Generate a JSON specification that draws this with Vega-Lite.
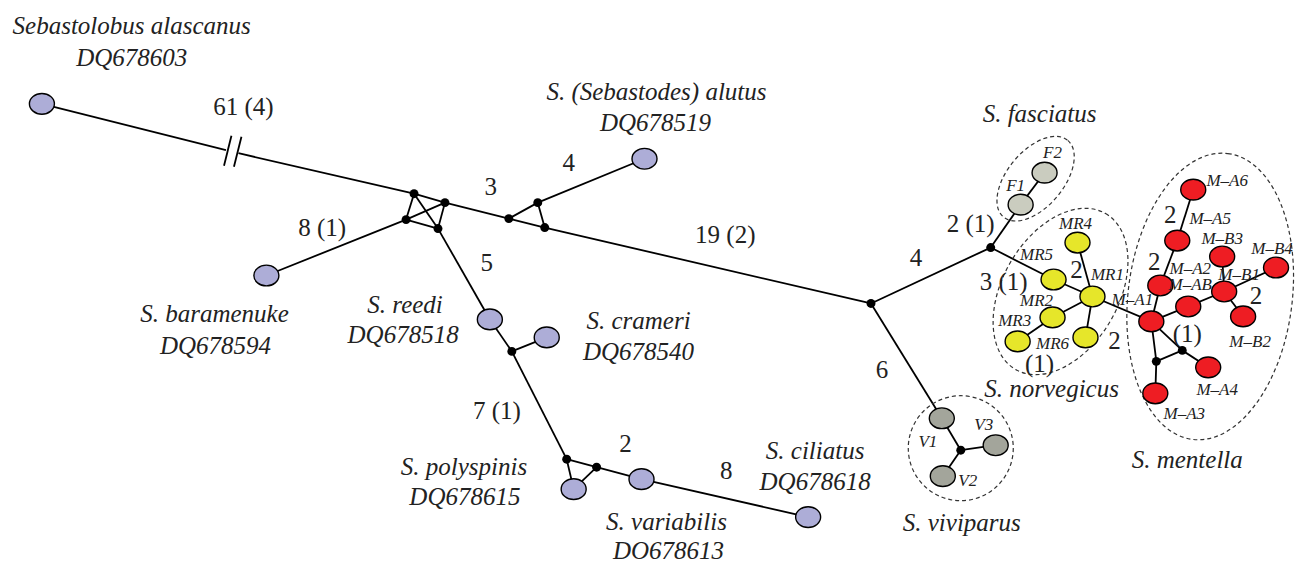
{
  "$schema": "https://vega.github.io/schema/vega-lite/v6.json",
  "width": 1296,
  "height": 564,
  "autosize": {"type": "fit", "contains": "padding"},
  "padding": 0,
  "background": "white",
  "config": {"view": {"stroke": null}},
  "datasets": {
    "nodes": [
      {"id": "seb", "x": 42, "y": 104, "group": "outgroup"},
      {"id": "brk1", "x": 226.5, "y": 150.5, "group": "hidden"},
      {"id": "brk2", "x": 239, "y": 153.5, "group": "hidden"},
      {"id": "s1a", "x": 232, "y": 136, "group": "hidden"},
      {"id": "s1b", "x": 224.5, "y": 166, "group": "hidden"},
      {"id": "s2a", "x": 242, "y": 137, "group": "hidden"},
      {"id": "s2b", "x": 234.5, "y": 167, "group": "hidden"},
      {"id": "A", "x": 415, "y": 194, "group": "median"},
      {"id": "B", "x": 446, "y": 203, "group": "median"},
      {"id": "C", "x": 407, "y": 220, "group": "median"},
      {"id": "D", "x": 439, "y": 229, "group": "median"},
      {"id": "bar", "x": 267, "y": 276, "group": "outgroup"},
      {"id": "E", "x": 510, "y": 219, "group": "median"},
      {"id": "F", "x": 539, "y": 203, "group": "median"},
      {"id": "G", "x": 546, "y": 228, "group": "median"},
      {"id": "alu", "x": 646, "y": 159, "group": "outgroup"},
      {"id": "H", "x": 873, "y": 304, "group": "median"},
      {"id": "ree", "x": 491, "y": 320, "group": "outgroup"},
      {"id": "M", "x": 513, "y": 352, "group": "median"},
      {"id": "cra", "x": 548, "y": 338, "group": "outgroup"},
      {"id": "N", "x": 568, "y": 460, "group": "median"},
      {"id": "O", "x": 598, "y": 468, "group": "median"},
      {"id": "pol", "x": 575, "y": 490, "group": "outgroup"},
      {"id": "var", "x": 643, "y": 480, "group": "outgroup"},
      {"id": "cil", "x": 810, "y": 518, "group": "outgroup"},
      {"id": "I", "x": 993, "y": 248, "group": "median"},
      {"id": "F1", "x": 1023, "y": 205, "group": "fasciatus"},
      {"id": "F2", "x": 1047, "y": 173, "group": "fasciatus"},
      {"id": "MR5", "x": 1056, "y": 280, "group": "norvegicus"},
      {"id": "MR1", "x": 1095, "y": 297, "group": "norvegicus"},
      {"id": "MR4", "x": 1080, "y": 243, "group": "norvegicus"},
      {"id": "MR2", "x": 1055, "y": 318, "group": "norvegicus"},
      {"id": "MR3", "x": 1020, "y": 342, "group": "norvegicus"},
      {"id": "MR6", "x": 1088, "y": 338, "group": "norvegicus"},
      {"id": "MA1", "x": 1154, "y": 322, "group": "mentella"},
      {"id": "MA2", "x": 1163, "y": 286, "group": "mentella"},
      {"id": "MA5", "x": 1180, "y": 241, "group": "mentella"},
      {"id": "MA6", "x": 1196, "y": 190, "group": "mentella"},
      {"id": "MAB", "x": 1191, "y": 307, "group": "mentella"},
      {"id": "MB1", "x": 1227, "y": 292, "group": "mentella"},
      {"id": "MB3", "x": 1225, "y": 257, "group": "mentella"},
      {"id": "MB4", "x": 1279, "y": 268, "group": "mentella"},
      {"id": "MB2", "x": 1246, "y": 317, "group": "mentella"},
      {"id": "J", "x": 1185, "y": 351, "group": "median"},
      {"id": "K", "x": 1159, "y": 362, "group": "median"},
      {"id": "MA4", "x": 1211, "y": 368, "group": "mentella"},
      {"id": "MA3", "x": 1158, "y": 394, "group": "mentella"},
      {"id": "V1", "x": 944, "y": 419, "group": "viviparus"},
      {"id": "V2", "x": 945, "y": 477, "group": "viviparus"},
      {"id": "V3", "x": 998, "y": 446, "group": "viviparus"},
      {"id": "L", "x": 963, "y": 451, "group": "median"}
    ],
    "edges": [
      {"from": "seb", "to": "brk1"}, {"from": "brk2", "to": "A"},
      {"from": "s1a", "to": "s1b"}, {"from": "s2a", "to": "s2b"},
      {"from": "A", "to": "B"}, {"from": "A", "to": "C"}, {"from": "A", "to": "D"},
      {"from": "B", "to": "C"}, {"from": "B", "to": "D"}, {"from": "C", "to": "D"},
      {"from": "C", "to": "bar"}, {"from": "B", "to": "E"},
      {"from": "E", "to": "F"}, {"from": "F", "to": "G"}, {"from": "E", "to": "G"},
      {"from": "F", "to": "alu"}, {"from": "G", "to": "H"},
      {"from": "D", "to": "ree"}, {"from": "ree", "to": "M"}, {"from": "M", "to": "cra"},
      {"from": "M", "to": "N"}, {"from": "N", "to": "O"}, {"from": "N", "to": "pol"},
      {"from": "O", "to": "pol"}, {"from": "O", "to": "var"}, {"from": "var", "to": "cil"},
      {"from": "H", "to": "I"}, {"from": "I", "to": "F1"}, {"from": "F1", "to": "F2"},
      {"from": "I", "to": "MR5"}, {"from": "MR5", "to": "MR1"}, {"from": "MR1", "to": "MR4"},
      {"from": "MR1", "to": "MR2"}, {"from": "MR2", "to": "MR3"}, {"from": "MR1", "to": "MR6"},
      {"from": "MR1", "to": "MA1"}, {"from": "MA1", "to": "MA2"}, {"from": "MA2", "to": "MA5"},
      {"from": "MA5", "to": "MA6"}, {"from": "MA1", "to": "MAB"}, {"from": "MAB", "to": "MB1"},
      {"from": "MB1", "to": "MB3"}, {"from": "MB1", "to": "MB4"}, {"from": "MB1", "to": "MB2"},
      {"from": "MA1", "to": "J"}, {"from": "J", "to": "MA4"}, {"from": "MA1", "to": "K"},
      {"from": "K", "to": "MA3"}, {"from": "K", "to": "J"},
      {"from": "H", "to": "V1"}, {"from": "V1", "to": "L"}, {"from": "L", "to": "V2"}, {"from": "L", "to": "V3"}
    ],
    "hulls": [
      {"group": "fasciatus", "x": 1038, "y": 179},
      {"group": "norvegicus", "x": 1063, "y": 292},
      {"group": "mentella", "x": 1213, "y": 297},
      {"group": "viviparus", "x": 963, "y": 449}
    ],
    "labels": [
      {"kind": "species", "text": "Sebastolobus alascanus", "x": 132, "y": 26},
      {"kind": "species", "text": "DQ678603", "x": 132, "y": 58},
      {"kind": "species", "text": "S. (Sebastodes) alutus", "x": 658, "y": 92},
      {"kind": "species", "text": "DQ678519", "x": 657, "y": 123},
      {"kind": "species", "text": "S. fasciatus", "x": 1042, "y": 114},
      {"kind": "species", "text": "S. baramenuke", "x": 215, "y": 315},
      {"kind": "species", "text": "DQ678594", "x": 216, "y": 347},
      {"kind": "species", "text": "S. reedi", "x": 406, "y": 306},
      {"kind": "species", "text": "DQ678518", "x": 404, "y": 336},
      {"kind": "species", "text": "S. crameri", "x": 640, "y": 322},
      {"kind": "species", "text": "DQ678540", "x": 640, "y": 353},
      {"kind": "species", "text": "S. polyspinis", "x": 465, "y": 468},
      {"kind": "species", "text": "DQ678615", "x": 466, "y": 498},
      {"kind": "species", "text": "S. ciliatus", "x": 817, "y": 452},
      {"kind": "species", "text": "DQ678618", "x": 817, "y": 483},
      {"kind": "species", "text": "S. variabilis", "x": 668, "y": 523},
      {"kind": "species", "text": "DO678613", "x": 670, "y": 552},
      {"kind": "species", "text": "S. norvegicus", "x": 1054, "y": 390},
      {"kind": "species", "text": "S. mentella", "x": 1190, "y": 461},
      {"kind": "species", "text": "S. viviparus", "x": 964, "y": 524},
      {"kind": "edge", "text": "61 (4)", "x": 244, "y": 107},
      {"kind": "edge", "text": "8 (1)", "x": 323, "y": 228},
      {"kind": "edge", "text": "3", "x": 492, "y": 187},
      {"kind": "edge", "text": "4", "x": 570, "y": 163},
      {"kind": "edge", "text": "19 (2)", "x": 727, "y": 235},
      {"kind": "edge", "text": "5", "x": 488, "y": 263},
      {"kind": "edge", "text": "7 (1)", "x": 498, "y": 412},
      {"kind": "edge", "text": "2", "x": 627, "y": 445},
      {"kind": "edge", "text": "8", "x": 728, "y": 472},
      {"kind": "edge", "text": "4", "x": 918, "y": 258},
      {"kind": "edge", "text": "6", "x": 884, "y": 371},
      {"kind": "edge", "text": "2 (1)", "x": 973, "y": 224},
      {"kind": "edge", "text": "3 (1)", "x": 1006, "y": 283},
      {"kind": "edge", "text": "2", "x": 1079, "y": 270},
      {"kind": "edge", "text": "2", "x": 1117, "y": 342},
      {"kind": "edge", "text": "(1)", "x": 1042, "y": 365},
      {"kind": "edge", "text": "(1)", "x": 1190, "y": 335},
      {"kind": "edge", "text": "2", "x": 1173, "y": 215},
      {"kind": "edge", "text": "2", "x": 1157, "y": 262},
      {"kind": "edge", "text": "2", "x": 1259, "y": 297},
      {"kind": "hap", "text": "F1", "x": 1018, "y": 186},
      {"kind": "hap", "text": "F2", "x": 1055, "y": 153},
      {"kind": "hap", "text": "MR4", "x": 1078, "y": 224},
      {"kind": "hap", "text": "MR5", "x": 1039, "y": 255},
      {"kind": "hap", "text": "MR1", "x": 1110, "y": 275},
      {"kind": "hap", "text": "MR2", "x": 1039, "y": 302},
      {"kind": "hap", "text": "MR3", "x": 1017, "y": 322},
      {"kind": "hap", "text": "MR6", "x": 1055, "y": 345},
      {"kind": "hap", "text": "M–A1", "x": 1135, "y": 301},
      {"kind": "hap", "text": "M–A6", "x": 1230, "y": 181},
      {"kind": "hap", "text": "M–A5", "x": 1213, "y": 219},
      {"kind": "hap", "text": "M–B3", "x": 1225, "y": 239},
      {"kind": "hap", "text": "M–B4", "x": 1275, "y": 249},
      {"kind": "hap", "text": "M–A2", "x": 1193, "y": 269},
      {"kind": "hap", "text": "M–B1", "x": 1242, "y": 275},
      {"kind": "hap", "text": "M–AB", "x": 1193, "y": 286},
      {"kind": "hap", "text": "M–B2", "x": 1253, "y": 343},
      {"kind": "hap", "text": "M–A4", "x": 1220, "y": 391},
      {"kind": "hap", "text": "M–A3", "x": 1187, "y": 415},
      {"kind": "hap", "text": "V1", "x": 930, "y": 443},
      {"kind": "hap", "text": "V3", "x": 986, "y": 426},
      {"kind": "hap", "text": "V2", "x": 970, "y": 482}
    ]
  },
  "layer": [
    {
      "data": {"name": "edges"},
      "transform": [
        {"lookup": "from", "from": {"data": {"name": "nodes"}, "key": "id", "fields": ["x", "y"]}, "as": ["x1", "y1"]},
        {"lookup": "to", "from": {"data": {"name": "nodes"}, "key": "id", "fields": ["x", "y"]}, "as": ["x2", "y2"]}
      ],
      "mark": {"type": "rule", "color": "black", "strokeWidth": 1.8},
      "encoding": {
        "x": {"field": "x1", "type": "quantitative", "scale": {"domain": [0, 1296], "nice": false, "zero": false}, "axis": null},
        "y": {"field": "y1", "type": "quantitative", "scale": {"domain": [0, 564], "reverse": true, "nice": false, "zero": false}, "axis": null},
        "x2": {"field": "x2"},
        "y2": {"field": "y2"}
      }
    },
    {
      "data": {"name": "hulls"},
      "transform": [{"filter": "datum.group === 'fasciatus'"}],
      "mark": {"type": "point", "filled": false, "opacity": 1, "stroke": "#333", "strokeWidth": 1.2, "strokeDash": [4, 3], "size": 10000, "angle": 310,
        "shape": "M1,0C1,0.309,0.552,0.56,0,0.56C-0.552,0.56,-1,0.309,-1,0C-1,-0.309,-0.552,-0.56,0,-0.56C0.552,-0.56,1,-0.309,1,0Z"},
      "encoding": {
        "x": {"field": "x", "type": "quantitative", "axis": null},
        "y": {"field": "y", "type": "quantitative", "axis": null}
      }
    },
    {
      "data": {"name": "hulls"},
      "transform": [{"filter": "datum.group === 'norvegicus'"}],
      "mark": {"type": "point", "filled": false, "opacity": 1, "stroke": "#333", "strokeWidth": 1.2, "strokeDash": [4, 3], "size": 32400, "angle": 300,
        "shape": "M1,0C1,0.356,0.552,0.644,0,0.644C-0.552,0.644,-1,0.356,-1,0C-1,-0.356,-0.552,-0.644,0,-0.644C0.552,-0.644,1,-0.356,1,0Z"},
      "encoding": {
        "x": {"field": "x", "type": "quantitative", "axis": null},
        "y": {"field": "y", "type": "quantitative", "axis": null}
      }
    },
    {
      "data": {"name": "hulls"},
      "transform": [{"filter": "datum.group === 'mentella'"}],
      "mark": {"type": "point", "filled": false, "opacity": 1, "stroke": "#333", "strokeWidth": 1.2, "strokeDash": [4, 3], "size": 82944, "angle": 277,
        "shape": "M1,0C1,0.315,0.552,0.57,0,0.57C-0.552,0.57,-1,0.315,-1,0C-1,-0.315,-0.552,-0.57,0,-0.57C0.552,-0.57,1,-0.315,1,0Z"},
      "encoding": {
        "x": {"field": "x", "type": "quantitative", "axis": null},
        "y": {"field": "y", "type": "quantitative", "axis": null}
      }
    },
    {
      "data": {"name": "hulls"},
      "transform": [{"filter": "datum.group === 'viviparus'"}],
      "mark": {"type": "point", "filled": false, "opacity": 1, "stroke": "#333", "strokeWidth": 1.2, "strokeDash": [4, 3], "size": 11025, "shape": "circle"},
      "encoding": {
        "x": {"field": "x", "type": "quantitative", "axis": null},
        "y": {"field": "y", "type": "quantitative", "axis": null}
      }
    },
    {
      "data": {"name": "nodes"},
      "transform": [{"filter": "datum.group !== 'median' && datum.group !== 'hidden'"}],
      "mark": {"type": "point", "filled": true, "opacity": 1, "stroke": "black", "strokeWidth": 1.4, "size": 625,
        "shape": "M1,0C1,0.458,0.552,0.83,0,0.83C-0.552,0.83,-1,0.458,-1,0C-1,-0.458,-0.552,-0.83,0,-0.83C0.552,-0.83,1,-0.458,1,0Z"},
      "encoding": {
        "x": {"field": "x", "type": "quantitative", "axis": null},
        "y": {"field": "y", "type": "quantitative", "axis": null},
        "fill": {"field": "group", "type": "nominal", "legend": null,
          "scale": {"domain": ["outgroup", "fasciatus", "norvegicus", "mentella", "viviparus"],
                    "range": ["#adadd7", "#caccbf", "#e6e62a", "#ee1d23", "#a3a59b"]}}
      }
    },
    {
      "data": {"name": "nodes"},
      "transform": [{"filter": "datum.group === 'median'"}],
      "mark": {"type": "point", "filled": true, "opacity": 1, "color": "black", "shape": "circle", "size": 80},
      "encoding": {
        "x": {"field": "x", "type": "quantitative", "axis": null},
        "y": {"field": "y", "type": "quantitative", "axis": null}
      }
    },
    {
      "data": {"name": "labels"},
      "transform": [{"filter": "datum.kind === 'species'"}],
      "mark": {"type": "text", "font": "Liberation Serif, Times New Roman, serif", "fontStyle": "italic", "fontSize": 25, "color": "#222", "align": "center", "baseline": "middle"},
      "encoding": {
        "x": {"field": "x", "type": "quantitative", "axis": null},
        "y": {"field": "y", "type": "quantitative", "axis": null},
        "text": {"field": "text"}
      }
    },
    {
      "data": {"name": "labels"},
      "transform": [{"filter": "datum.kind === 'edge'"}],
      "mark": {"type": "text", "font": "Liberation Serif, Times New Roman, serif", "fontSize": 25, "color": "#222", "align": "center", "baseline": "middle"},
      "encoding": {
        "x": {"field": "x", "type": "quantitative", "axis": null},
        "y": {"field": "y", "type": "quantitative", "axis": null},
        "text": {"field": "text"}
      }
    },
    {
      "data": {"name": "labels"},
      "transform": [{"filter": "datum.kind === 'hap'"}],
      "mark": {"type": "text", "font": "Liberation Serif, Times New Roman, serif", "fontStyle": "italic", "fontSize": 17, "color": "#222", "align": "center", "baseline": "middle"},
      "encoding": {
        "x": {"field": "x", "type": "quantitative", "axis": null},
        "y": {"field": "y", "type": "quantitative", "axis": null},
        "text": {"field": "text"}
      }
    }
  ]
}
